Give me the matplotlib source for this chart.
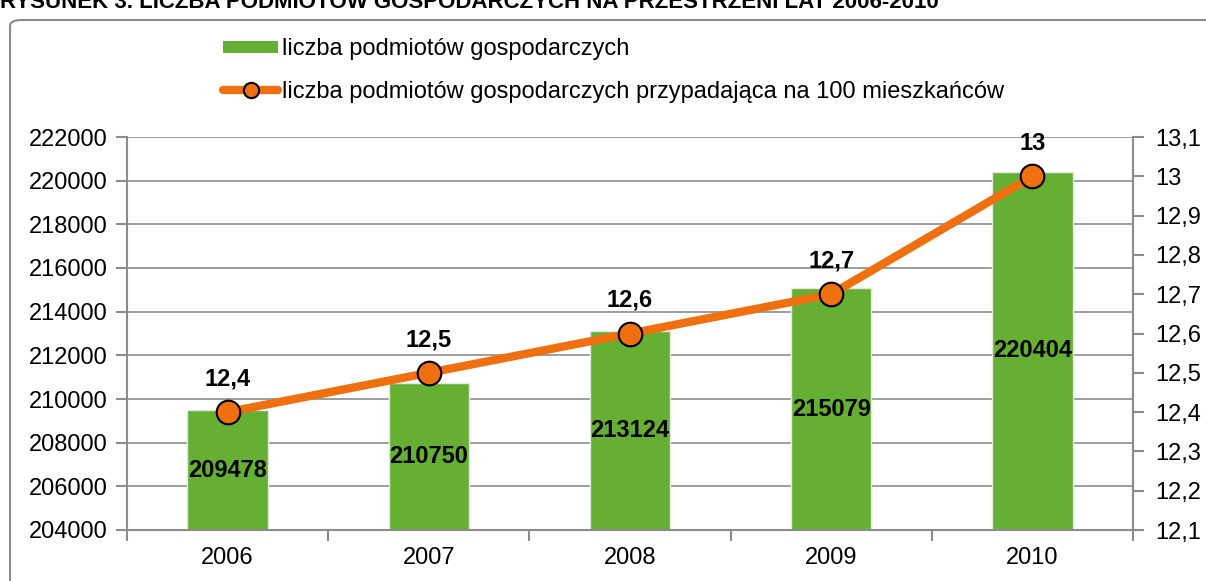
import numpy as np
import matplotlib.pyplot as plt
from matplotlib.patches import FancyBboxPatch
from matplotlib.lines import Line2D
from matplotlib.patches import Patch

plt.rcParams['font.family'] = ['Liberation Sans', 'DejaVu Sans']

years = ['2006', '2007', '2008', '2009', '2010']
podmioty = [209478, 210750, 213124, 215079, 220404]
na_100 = [12.4, 12.5, 12.6, 12.7, 13.0]
na_100_labels = ['12,4', '12,5', '12,6', '12,7', '13']

green = '#65b032'
orange = '#f07010'
grid_c = '#8c8c8c'

fig = plt.figure(figsize=(12.06, 5.81), dpi=100)

# chart frame (cut off at right and bottom)
frame = FancyBboxPatch((10 / 1206, -0.05), 1.2, 0.05 + (581 - 20) / 581,
                       boxstyle='round,pad=0,rounding_size=0.01',
                       transform=fig.transFigure, fill=False,
                       edgecolor='#8c8c8c', linewidth=1.5, zorder=0)
fig.patches.append(frame)

# title, cut at the top edge as in the source
fig.text(0.0, 1 - 8 / 581, 'RYSUNEK 3. LICZBA PODMIOTÓW GOSPODARCZYCH NA PRZESTRZENI LAT 2006-2010',
         family=['Liberation Sans Narrow', 'Liberation Sans'], fontweight='bold',
         fontsize=16, va='baseline', ha='left')

ax = fig.add_axes([127 / 1206, 51 / 581, 1006 / 1206, 393 / 581])
x = np.arange(len(years))
bars = ax.bar(x, np.array(podmioty) - 204000, bottom=204000, width=0.4,
              color=green, edgecolor='#e6e6e6', linewidth=1, zorder=2)
ax.set_xlim(-0.5, 4.5)
ax.set_ylim(204000, 222000)
ax.set_yticks(np.arange(204000, 222001, 2000))
ax.set_yticklabels([str(v) for v in range(204000, 222001, 2000)], fontsize=17)
ax.yaxis.grid(True, color=grid_c, linewidth=1.2, zorder=0)
ax.set_axisbelow(True)
ax.set_xticks(x)
ax.set_xticklabels(years, fontsize=17)
ax.tick_params(axis='x', length=0, pad=12)
ax.set_xticks(np.arange(-0.5, 5, 1), minor=True)
ax.tick_params(axis='x', which='minor', length=8, color=grid_c, width=1.5)
ax.tick_params(axis='y', length=8, color=grid_c, width=1.5, pad=6)
ax.spines['top'].set_visible(False)
for s in ['left', 'right', 'bottom']:
    ax.spines[s].set_color(grid_c)
    ax.spines[s].set_linewidth(1.5)

for xi, v in zip(x, podmioty):
    ax.text(xi, (204000 + v) / 2, str(v), ha='center', va='center',
            fontsize=17, fontweight='bold', zorder=5)

ax2 = ax.twinx()
ax2.plot(x, na_100, color=orange, linewidth=6, marker='o', markersize=17,
         markerfacecolor=orange, markeredgecolor='black', markeredgewidth=1.5,
         solid_capstyle='round', zorder=4)
ax2.set_ylim(12.1, 13.1)
ax2.set_yticks(np.arange(12.1, 13.11, 0.1))
ax2.set_yticklabels([('%.1f' % v).replace('.', ',').replace(',0', '') for v in np.arange(12.1, 13.11, 0.1)],
                    fontsize=17)
ax2.tick_params(axis='y', length=8, color=grid_c, width=1.5, pad=8)
for s in ['top', 'left', 'bottom']:
    ax2.spines[s].set_visible(False)
ax2.spines['right'].set_color(grid_c)
ax2.spines['right'].set_linewidth(1.5)
for xi, v, lab in zip(x, na_100, na_100_labels):
    ax2.text(xi, v + 0.055, lab, ha='center', va='bottom', fontsize=17, fontweight='bold')

handles = [Patch(facecolor=green, edgecolor='none'),
           Line2D([0], [0], color=orange, linewidth=6, marker='o', markersize=11,
                  markerfacecolor=orange, markeredgecolor='black', markeredgewidth=1.5,
                  solid_capstyle='round')]
fig.legend(handles, ['liczba podmiotów gospodarczych',
                     'liczba podmiotów gospodarczych przypadająca na 100 mieszkańców'],
           loc='upper left', bbox_to_anchor=(214 / 1206, 1 - 29 / 581), frameon=False,
           fontsize=17, handlelength=2.3, handleheight=0.35, handletextpad=0.2,
           labelspacing=0.85, borderaxespad=0)

fig.savefig('out.png', dpi=100)
